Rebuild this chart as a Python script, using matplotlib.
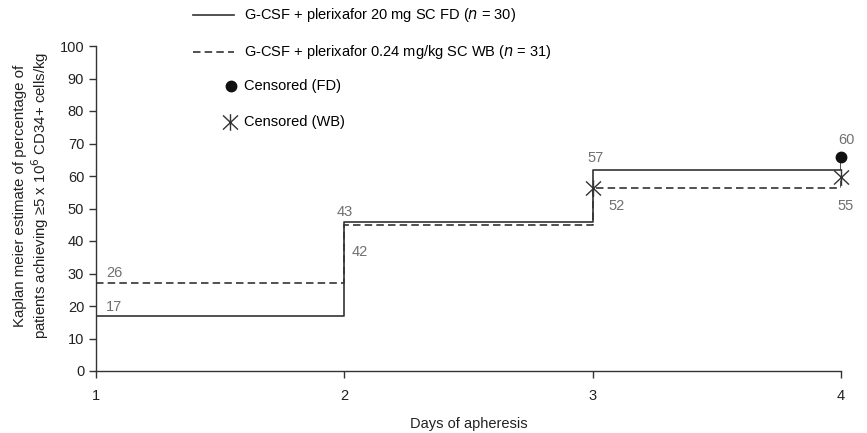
import numpy as np
import matplotlib.pyplot as plt
from matplotlib.path import Path
from matplotlib.lines import Line2D

plt.rcParams['font.family'] = ['Liberation Sans', 'DejaVu Sans']

# step curves (value reached at each day, last point = censored tick at day 4)
days = [1, 2, 3, 4]
fd_values = [17, 46, 62, 66]
wb_values = [27, 45, 56.3, 59.7]

# censored marks
fd_cens_days = [4]
fd_cens_values = [66]
wb_cens_days = [3, 4]
wb_cens_values = [56.3, 59.7]

# printed numbers
fd_labels = ['17', '43', '57', '60']
wb_labels = ['26', '42', '52', '55']

line_col = '#333333'
num_col = '#707070'

# asterisk-like marker: vertical bar + X
star = Path([(0, -1), (0, 1), (-0.9, -0.85), (0.9, 0.85), (-0.9, 0.85), (0.9, -0.85)],
            [Path.MOVETO, Path.LINETO, Path.MOVETO, Path.LINETO, Path.MOVETO, Path.LINETO])

fig = plt.figure(figsize=(8.67, 4.33), dpi=100)
ax = fig.add_axes([96/867, 1-371/433, (841-96)/867, (371-46)/433])

dash = (0, (4.5, 2.5))
ax.plot(days, fd_values, drawstyle='steps-post', color=line_col, lw=1.2)
ax.plot(days, wb_values, drawstyle='steps-post', color=line_col, lw=1.2, linestyle=dash)
ax.plot(fd_cens_days, fd_cens_values, 'o', color='#111111', ms=7.5, clip_on=False)
ax.plot(wb_cens_days, wb_cens_values, marker=star, linestyle='none', color=line_col,
        ms=12, mew=1.0, mfc='none', clip_on=False)

# numbers next to steps
fd_pos = [(1.04, 19.7, 'left'), (2.0, 49, 'center'), (3.01, 65.5, 'center'), (4.02, 71, 'center')]
wb_pos = [(1.04, 30.2, 'left'), (2.03, 36.6, 'left'), (3.065, 50.8, 'left'), (4.02, 50.8, 'center')]
for (x, y, ha), t in zip(fd_pos, fd_labels):
    ax.text(x, y, t, color=num_col, fontsize=10.5, ha=ha, va='center')
for (x, y, ha), t in zip(wb_pos, wb_labels):
    ax.text(x, y, t, color=num_col, fontsize=10.5, ha=ha, va='center')

ax.set_xlim(1, 4)
ax.set_ylim(0, 100)
ax.set_xticks(days)
ax.set_yticks(np.arange(0, 101, 10))
for s in ['top', 'right']:
    ax.spines[s].set_visible(False)
for s in ['left', 'bottom']:
    ax.spines[s].set_color(line_col)
    ax.spines[s].set_linewidth(1.0)
ax.tick_params(direction='out', length=5, width=1, color=line_col, labelsize=10.5,
               labelcolor='#222222')
ax.tick_params(axis='x', pad=8)
ax.set_xlabel('Days of apheresis', fontsize=10.5, labelpad=10, color='#222222')
ax.set_ylabel('Kaplan meier estimate of percentage of\n'
              'patients achieving \u22655 x 10$^6$ CD34+ cells/kg',
              fontsize=10.8, color='#222222', linespacing=1.1)
ax.yaxis.set_label_coords(-0.061, 0.54)

# legend drawn in figure pixels
W, H = 867, 433
def fx(p):
    return p / W
def fy(p):
    return 1 - p / H

tx = 244
fig.add_artist(Line2D([fx(193), fx(234)], [fy(15), fy(15)], color=line_col, lw=1.2))
fig.add_artist(Line2D([fx(193), fx(234)], [fy(52), fy(52)], color=line_col, lw=1.2,
                      linestyle=dash))
fig.add_artist(Line2D([fx(231)], [fy(86)], marker='o', color='#111111', ms=7.5))
fig.add_artist(Line2D([fx(230)], [fy(122)], marker=star, color=line_col, ms=12,
                      mew=1.0, mfc='none'))
fig.text(fx(tx), fy(15), 'G-CSF + plerixafor 20 mg SC FD ($n$ = 30)', fontsize=10.5, va='center')
fig.text(fx(tx), fy(52), 'G-CSF + plerixafor 0.24 mg/kg SC WB ($n$ = 31)', fontsize=10.5, va='center')
fig.text(fx(tx), fy(86), 'Censored (FD)', fontsize=10.5, va='center')
fig.text(fx(tx), fy(122), 'Censored (WB)', fontsize=10.5, va='center')

fig.savefig('out.png', dpi=100)
